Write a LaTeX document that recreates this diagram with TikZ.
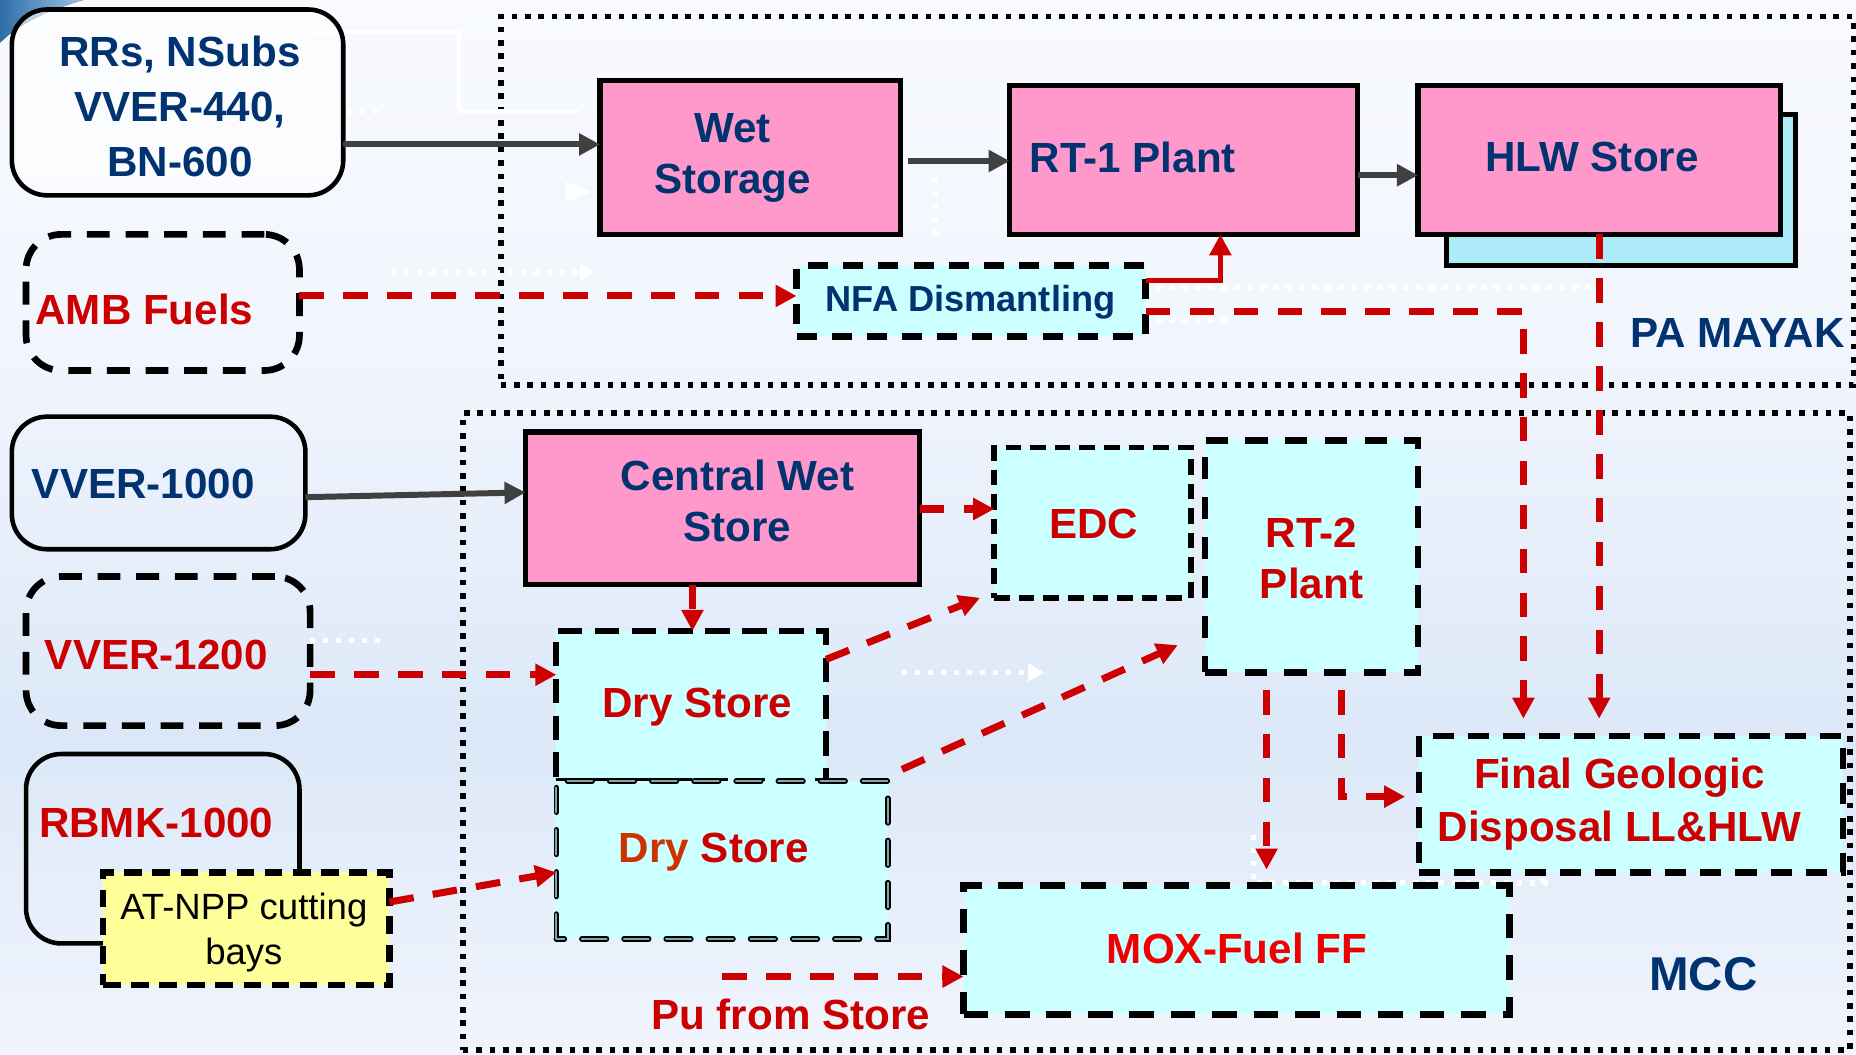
\documentclass[tikz,border=0pt]{standalone}
\usepackage{fontspec}
\setmainfont{Liberation Sans}
\usetikzlibrary{arrows.meta,fit,calc}

\definecolor{txtblue}{HTML}{00336F}
\definecolor{txtred}{HTML}{CC0000}
\definecolor{brightred}{HTML}{F00000}
\definecolor{dryorange}{HTML}{CC3300}
\definecolor{pinkc}{HTML}{FF99CC}
\definecolor{cyanc}{HTML}{CCFFFF}
\definecolor{shadowc}{HTML}{ADEBFB}
\definecolor{yellowc}{HTML}{FFFF99}
\definecolor{arrgray}{HTML}{404040}
\definecolor{linered}{HTML}{CC0000}
\definecolor{bgtop}{HTML}{F8FAFE}
\definecolor{bgupper}{HTML}{F1F5FD}
\definecolor{bgmid}{HTML}{DCE8F8}
\definecolor{bgbot}{HTML}{F1F5FD}
\definecolor{swooshA}{HTML}{2F6EA8}
\definecolor{swooshB}{HTML}{9CC2E6}
\definecolor{dryedge}{HTML}{7FA8A8}

\pgfdeclareverticalshading{bgshade}{100bp}{color(0bp)=(bgbot); color(25bp)=(bgbot); color(40bp)=(bgmid); color(58bp)=(bgupper); color(75bp)=(bgtop); color(100bp)=(bgtop)}

\tikzset{
  every node/.style={inner sep=0pt, outer sep=0pt},
  lbl/.style={font=\bfseries\fontsize{12}{14.5}\selectfont, align=center},
  bluetxt/.style={lbl, text=txtblue},
  redtxt/.style={lbl, text=txtred},
  pinkbox/.style={draw=black, line width=1.5pt, fill=pinkc},
  cyanbox/.style={draw=black, line width=1.8pt, fill=cyanc, dash pattern=on 6pt off 4pt},
  srcsolid/.style={draw=black, line width=1.3pt, rounded corners=10pt},
  srcdash/.style={draw=black, line width=1.9pt, rounded corners=10pt, dash pattern=on 6.5pt off 4.5pt},
  region/.style={draw=black, line width=1.6pt, dash pattern=on 1.6pt off 2.2pt},
  grayarr/.style={draw=arrgray, line width=1.7pt, -{Triangle[length=6pt,width=6pt]}},
  redarr/.style={draw=linered, line width=2pt, dash pattern=on 7pt off 5.5pt, -{Triangle[length=6pt,width=6pt]}},
  redsolid/.style={draw=linered, line width=1.6pt, -{Triangle[length=6pt,width=6pt]}},
  ghost/.style={draw=white, line width=1.5pt, dash pattern=on 1.5pt off 2.2pt},
  ghostarr/.style={ghost, -{Triangle[length=4.5pt,width=5pt]}},
}

\begin{document}
\begin{tikzpicture}[x=0.011837cm, y=-0.011837cm]
% background
\fill[shading=bgshade] (0,0) rectangle (1568,891);
\useasboundingbox (0,0) rectangle (1568,891);
\fill[left color=swooshA, right color=swooshB] (0,0) -- (70,0) .. controls (46,7) and (18,18) .. (0,36) -- cycle;

% regions
\node[region, fit={(423,14) (1566,325)}] (mayak) {};
\node[region, fit={(391,349) (1563,887)}] (mcc) {};

% faint white traces
\draw[ghost] (260,94) -- (327,94);
\draw[draw=white, line width=1.2pt] (260,27) -- (388,27) -- (388,94) -- (488,94);
\draw[ghostarr] (330,230) -- (503,230);
\draw[ghost] (790,150) -- (790,200);
\draw[ghost] (966,243) -- (1345,243);
\draw[ghost] (966,271) -- (1041,271);
\draw[ghost] (262,541) -- (327,541);
\draw[ghostarr] (762,568) -- (882,568);
\draw[ghost] (1059,705) -- (1059,746) -- (1312,746);
\draw[ghostarr] (1303,746) -- (1303,708);
\fill[white] (478,153) -- (500,162) -- (478,171) -- cycle;

% source boxes
\node[srcsolid, fill=white, fill opacity=0.6, fit={(10,8) (290,165)}] (rrs) {};
\node[srcdash, fit={(22,198) (253,313)}] (amb) {};
\node[srcsolid, fit={(10,352) (258,464)}] (vv1000) {};
\node[srcdash, fit={(22,487) (262,613)}] (vv1200) {};
\node[srcsolid, fit={(22,637) (253,797)}] (rbmk) {};
\node[draw=black, line width=1.8pt, fill=yellowc, dash pattern=on 5pt off 3pt, fit={(87,737) (329,832)}] (atnpp) {};

% Mayak boxes
\node[pinkbox, fit={(507,68) (761,198)}] (wet) {};
\node[pinkbox, fit={(853,72) (1147,198)}] (rt1) {};
\node[draw=black, line width=1.5pt, fill=shadowc, fit={(1222,97) (1517,224)}] (hlwsh) {};
\node[pinkbox, fit={(1198,72) (1504,198)}] (hlw) {};
\node[cyanbox, dash pattern=on 5.7pt off 4.3pt, line width=1.9pt, fit={(673,224) (968,284)}] (nfa) {};

% MCC boxes
\node[pinkbox, fit={(444,365) (777,494)}] (cws) {};
\node[cyanbox, line width=1.6pt, dash pattern=on 4.4pt off 2.6pt, fit={(840,378) (1006,505)}] (edc) {};
\node[cyanbox, line width=1.9pt, dash pattern=on 6.3pt off 5pt, fit={(1018,372) (1198,568)}] (rt2) {};
\node[cyanbox, dash pattern=on 7pt off 3.5pt, fit={(470,533) (698,660)}] (dry1) {};
\node[fill=cyanc, fit={(470,660) (750,793)}] (dry2) {};
\draw[black, line width=1.6pt, line cap=round, dash pattern=on 7pt off 5pt] (dry2.south west) rectangle (dry2.north east);
\draw[dryedge, line width=0.6pt, line cap=round, dash pattern=on 7pt off 5pt] (dry2.south west) rectangle (dry2.north east);
\node[cyanbox, fit={(1199,622) (1557,737)}] (final) {};
\node[cyanbox, line width=1.9pt, dash pattern=on 7pt off 4.8pt, fit={(814,748) (1275,857)}] (mox) {};

% texts
\node[bluetxt, font=\bfseries\fontsize{12}{15.6}\selectfont] (rrsT) at (152,90) {RRs, NSubs\\VVER-440,\\BN-600};
\node[redtxt] (ambT) at (122,261) {AMB Fuels};
\node[bluetxt] (vv1000T) at (121,409) {VVER-1000};
\node[redtxt] (vv1200T) at (132,553) {VVER-1200};
\node[redtxt] (rbmkT) at (132,695) {RBMK-1000};
\node[align=center, font=\fontsize{10.4}{12.8}\selectfont] (atnppT) at (206,788) {AT-NPP cutting\\bays};
\node[bluetxt] (wetT) at (619,133.5) {Wet\\Storage};
\node[bluetxt] (rt1T) at (957,133) {RT-1 Plant};
\node[bluetxt] (hlwT) at (1345,133) {HLW Store};
\node[bluetxt, font=\bfseries\fontsize{10.3}{12}\selectfont] (nfaT) at (820,255) {NFA Dismantling};
\node[bluetxt] (mayakT) at (1468,281) {PA MAYAK};
\node[bluetxt] (cwsT) at (623,423) {Central Wet\\Store};
\node[redtxt] (edcT) at (924,443) {EDC};
\node[redtxt] (rt2T) at (1108,472) {RT-2\\Plant};
\node[redtxt] (dry1T) at (589,597) {Dry Store};
\node[redtxt] (dry2T) at (603,720) {\textcolor{dryorange}{Dry} Store};
\node[redtxt, font=\bfseries\fontsize{12}{15}\selectfont] (finalT) at (1368,679) {Final Geologic\\Disposal LL\&HLW};
\node[lbl, text=brightred] (moxT) at (1045,801) {MOX-Fuel FF};
\node[redtxt] (puT) at (668,857) {Pu from Store};
\node[bluetxt, font=\bfseries\fontsize{13.5}{16}\selectfont] (mccT) at (1439,823) {MCC};

% connectors
\draw[grayarr] (rrs.east |- 0,122) -- (wet.west |- 0,122);
\draw[grayarr, shorten <=2pt] (wet.east |- 0,136) -- (rt1.west |- 0,136);
\draw[grayarr] (rt1.east |- 0,148) -- (hlw.west |- 0,148);
\draw[redarr] (amb.east |- 0,250) -- (nfa.west |- 0,250);
\draw[redsolid] (nfa.east |- 0,237) -| (rt1.south -| 1031,0);
\draw[redarr, shorten >=5pt] (nfa.east |- 0,263) -| (final.north -| 1287,0);
\draw[redarr, shorten >=5pt] (hlw.south) -- (hlw.south |- final.north);
\draw[grayarr] (vv1000.east |- 0,420) -- (cws.west |- 0,416);
\draw[redarr] (vv1200.east |- 0,570) -- (dry1.west |- 0,570);
\draw[redarr] (cws.south -| 585,0) -- (dry1.north -| 585,0);
\draw[redarr] (cws.east |- 0,430) -- (edc.west |- 0,430);
\draw[redarr] (dry1.east |- 0,557) -- ($(edc.south west)+(-12,0)$);
\draw[redarr] ($(dry2.north east)+(12,-10)$) -- ($(rt2.west |- 0,545)+(-23,0)$);
\draw[redarr] (atnpp.east |- 0,762) -- (dry2.west |- 0,737);
\draw[redarr, shorten <=5pt, shorten >=4.5pt] (rt2.south -| 1070,0) -- (mox.north -| 1070,0);
\draw[redarr, shorten <=5pt, shorten >=4pt] (rt2.south -| 1133,0) |- (final.west |- 0,673);
\coordinate (pusrc) at (610,825);
\draw[redarr] (pusrc) -- (mox.west |- pusrc);
\end{tikzpicture}
\end{document}
